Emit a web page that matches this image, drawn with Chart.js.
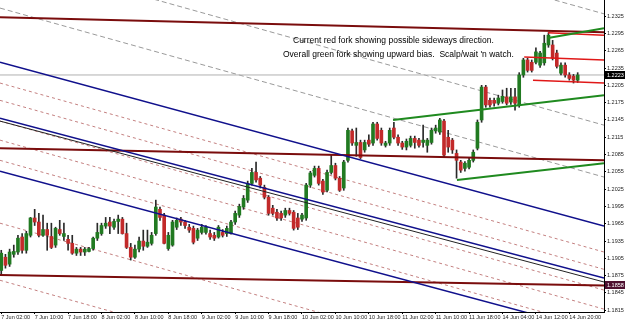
<!DOCTYPE html>
<html>
<head>
<meta charset="utf-8">
<script src="https://cdn.jsdelivr.net/npm/chart.js@4.4.0/dist/chart.umd.min.js"></script>
<style>
  html, body { margin: 0; padding: 0; background: #fff; }
</style>
</head>
<body>
<canvas id="myChart" width="625" height="321"></canvas>
<script>
// hourly candles, 7 Jun 02:00 .. 14 Jun 22:00 (EURUSD-ish)
let opens = [1.1884,1.1907,1.1895,1.1912,1.1916,1.1942,1.1919,1.1945,1.1975,1.1968,1.1945,1.1955,1.1943,1.1928,1.1955,1.1943,1.1938,1.1931,1.1914,1.1921,
  1.1916,1.1917,1.1922,1.1940,1.1948,1.1961,1.1968,1.1959,1.1969,1.1973,1.1948,1.1924,1.1907,1.1921,1.1935,1.1926,1.1931,1.1948,1.1990,1.1980,
  1.1922,1.1928,1.1959,1.1973,1.1968,1.1959,1.1957,1.1940,1.1950,1.1950,1.1948,1.1945,1.1942,1.1950,1.1948,1.1948,1.1968,1.1980,1.1994,1.2006,
  1.2035,1.2054,1.2044,1.2028,1.2011,1.1992,1.1985,1.1983,1.1980,1.1988,1.1985,1.1975,1.1973,1.1975,1.2032,1.2049,1.2061,1.2039,1.2023,1.2054,
  1.2066,1.2044,1.2027,1.2075,1.2126,1.2101,1.2106,1.2093,1.2110,1.2105,1.2138,1.2127,1.2101,1.2105,1.2131,1.2115,1.2105,1.2098,1.2101,1.2113,
  1.2110,1.2106,1.2101,1.2106,1.2126,1.2124,1.2143,1.2115,1.2110,1.2087,1.2072,1.2061,1.2063,1.2075,1.2096,1.2145,1.2202,1.2179,1.2179,1.2174,
  1.2177,1.2185,1.2176,1.2185,1.2171,1.2223,1.2249,1.2245,1.2245,1.2240,1.2244,1.2275,1.2275,1.2261,1.2226,1.2240,1.2223,1.2221,1.2214];
let highs = [1.1919,1.1912,1.1921,1.1928,1.1945,1.1948,1.1952,1.1976,1.1990,1.1983,1.1980,1.1966,1.1966,1.1959,1.1971,1.1966,1.1945,1.1945,1.1924,1.1924,
  1.1924,1.1924,1.1942,1.1966,1.1966,1.1976,1.1976,1.1973,1.1980,1.1976,1.1966,1.1931,1.1928,1.1942,1.1954,1.1954,1.1950,1.2006,1.1994,1.1983,
  1.1950,1.1971,1.1975,1.1976,1.1971,1.1964,1.1961,1.1957,1.1964,1.1962,1.1954,1.1950,1.1962,1.1955,1.1961,1.1971,1.1987,1.1999,1.2014,1.2039,
  1.2061,1.2072,1.2047,1.2032,1.2014,1.1997,1.1990,1.1987,1.1992,1.1992,1.1988,1.1983,1.1983,1.2035,1.2056,1.2065,1.2065,1.2042,1.2058,1.2084,
  1.2070,1.2047,1.2075,1.2131,1.2129,1.2131,1.2110,1.2110,1.2119,1.2141,1.2141,1.2131,1.2108,1.2131,1.2141,1.2119,1.2108,1.2112,1.2117,1.2117,
  1.2113,1.2136,1.2113,1.2131,1.2136,1.2148,1.2146,1.2127,1.2113,1.2093,1.2075,1.2073,1.2079,1.2093,1.2145,1.2205,1.2205,1.2183,1.2183,1.2188,
  1.2197,1.2200,1.2200,1.2200,1.2227,1.2252,1.2252,1.2249,1.2270,1.2264,1.2292,1.2296,1.2283,1.2266,1.2244,1.2244,1.2227,1.2224,1.2227];
let lows = [1.1877,1.1888,1.1891,1.1907,1.1912,1.1914,1.1914,1.1942,1.1962,1.1942,1.1943,1.1919,1.1922,1.1924,1.1945,1.1936,1.1919,1.1912,1.1910,1.1910,
  1.1910,1.1916,1.1919,1.1936,1.1945,1.1957,1.1948,1.1955,1.1948,1.1947,1.1922,1.1902,1.1905,1.1916,1.1919,1.1924,1.1928,1.1945,1.1971,1.1930,
  1.1919,1.1926,1.1955,1.1962,1.1957,1.1950,1.1930,1.1936,1.1947,1.1947,1.1938,1.1936,1.1940,1.1942,1.1943,1.1947,1.1964,1.1976,1.1990,1.2002,
  1.2032,1.2037,1.2027,1.2008,1.1980,1.1980,1.1971,1.1971,1.1976,1.1980,1.1954,1.1955,1.1969,1.1971,1.2028,1.2046,1.2032,1.2016,1.2020,1.2051,
  1.2041,1.2021,1.2023,1.2072,1.2101,1.2082,1.2078,1.2089,1.2099,1.2101,1.2110,1.2101,1.2098,1.2101,1.2112,1.2101,1.2094,1.2093,1.2098,1.2096,
  1.2098,1.2098,1.2089,1.2103,1.2122,1.2120,1.2080,1.2089,1.2087,1.2044,1.2054,1.2056,1.2060,1.2072,1.2093,1.2141,1.2167,1.2167,1.2169,1.2171,
  1.2174,1.2171,1.2172,1.2162,1.2167,1.2219,1.2228,1.2228,1.2242,1.2236,1.2240,1.2271,1.2249,1.2235,1.2223,1.2219,1.2214,1.2209,1.2210];
let closes = [1.1914,1.1893,1.1916,1.1917,1.1940,1.1919,1.1948,1.1975,1.1968,1.1945,1.1955,1.1945,1.1924,1.1957,1.1948,1.1948,1.1931,1.1914,1.1921,1.1916,
  1.1921,1.1922,1.1940,1.1950,1.1962,1.1966,1.1961,1.1969,1.1973,1.1948,1.1924,1.1907,1.1921,1.1935,1.1926,1.1933,1.1945,1.1994,1.1976,1.1931,
  1.1945,1.1968,1.1971,1.1968,1.1962,1.1954,1.1933,1.1954,1.1959,1.1959,1.1942,1.1940,1.1959,1.1945,1.1957,1.1968,1.1983,1.1995,1.2009,1.2035,
  1.2054,1.2041,1.2032,1.2011,1.1983,1.1983,1.1975,1.1975,1.1988,1.1983,1.1957,1.1959,1.1980,1.2032,1.2053,1.2061,1.2035,1.2020,1.2054,1.2066,
  1.2044,1.2023,1.2072,1.2127,1.2105,1.2106,1.2080,1.2106,1.2103,1.2138,1.2113,1.2105,1.2105,1.2127,1.2115,1.2105,1.2098,1.2108,1.2113,1.2106,
  1.2101,1.2110,1.2110,1.2127,1.2131,1.2145,1.2084,1.2098,1.2093,1.2075,1.2058,1.2070,1.2075,1.2089,1.2141,1.2202,1.2171,1.2171,1.2174,1.2183,
  1.2186,1.2174,1.2185,1.2174,1.2223,1.2249,1.2231,1.2231,1.2263,1.2261,1.2278,1.2292,1.2252,1.2238,1.2240,1.2223,1.2217,1.2214,1.2223];

let tickBars = [0, 8, 16, 24, 32, 40, 48, 56, 64, 72, 80, 88, 96, 104, 112, 120, 128, 136];
let tickLabels = ['7 Jun 02:00', '7 Jun 10:00', '7 Jun 18:00', '8 Jun 02:00', '8 Jun 10:00', '8 Jun 18:00',
  '9 Jun 02:00', '9 Jun 10:00', '9 Jun 18:00', '10 Jun 02:00', '10 Jun 10:00', '10 Jun 18:00',
  '11 Jun 02:00', '11 Jun 10:00', '11 Jun 18:00', '14 Jun 04:00', '14 Jun 12:00', '14 Jun 20:00'];
let priceTicks = [1.1815, 1.1845, 1.1875, 1.1905, 1.1935, 1.1965, 1.1995, 1.2025, 1.2055, 1.2085,
  1.2115, 1.2145, 1.2175, 1.2205, 1.2235, 1.2265, 1.2295, 1.2325];

let bidPrice = 1.2223;
let markPrice = 1.1858;

// trend lines: [bar1, price1, bar2, price2]
let maroonLines = [[-0.3, 1.2323, 144.3, 1.2297], [-0.3, 1.2096, 144.3, 1.2075], [-0.3, 1.1876, 144.3, 1.1858]];
let blueLines = [[-0.3, 1.2245, 144.3, 1.1961], [-0.3, 1.2148, 144.3, 1.1871], [-0.3, 1.2056, 144.3, 1.1775]];
let blackLines = [[-0.3, 1.2143, 144.3, 1.1864]];
let greenLines = [[93.8, 1.2145, 144.3, 1.2188], [130.9, 1.2287, 144.3, 1.2304], [109.1, 1.2041, 144.3, 1.2070]];
let redLines = [[130.9, 1.2296, 144.3, 1.2292], [125.2, 1.2254, 144.3, 1.2249], [127.3, 1.2214, 144.3, 1.2209]];
let greyDashed = [[-0.3, 1.2622, 144.3, 1.2329], [-0.3, 1.2429, 144.3, 1.2136], [-0.3, 1.2339, 144.3, 1.2046]];
let redDashed = [[-0.3, 1.2209, 144.3, 1.1916], [-0.3, 1.2179, 144.3, 1.1886], [-0.3, 1.2143, 144.3, 1.1850],
  [-0.3, 1.2110, 144.3, 1.1817], [-0.3, 1.2075, 144.3, 1.1782], [-0.3, 1.1966, 144.3, 1.1673], [-0.3, 1.1867, 144.3, 1.1574]];

let notes = ['Current red fork showing possible sideways direction.', "Overall green fork showing upward bias.  Scalp/wait 'n watch."];

function segs(list, color, width, dash, order) {
  return list.map(s => ({
    type: 'line',
    data: [{x: s[0], y: s[1]}, {x: s[2], y: s[3]}],
    borderColor: color,
    borderWidth: width,
    borderDash: dash,
    pointRadius: 0,
    order: order
  }));
}

const overlay = {
  id: 'overlay',
  afterDraw(chart) {
    const ctx = chart.ctx;
    const ys = chart.scales.y;
    const area = chart.chartArea;
    ctx.save();
    // price boxes on the right axis
    [[bidPrice, '#000000'], [markPrice, '#4e1030']].forEach(p => {
      const py = Math.round(ys.getPixelForValue(p[0]));
      ctx.fillStyle = p[1];
      ctx.fillRect(area.right + 1, py - 4, 20, 8);
      ctx.fillStyle = '#fff';
      ctx.font = '5.5px "Liberation Sans"';
      ctx.textBaseline = 'middle';
      ctx.textAlign = 'left';
      ctx.fillText(p[0].toFixed(4), area.right + 3, py);
    });
    // comment text
    ctx.fillStyle = '#000';
    ctx.font = '8.5px "Liberation Sans"';
    ctx.textBaseline = 'middle';
    ctx.fillText(notes[0], 293, 41);
    ctx.fillText(notes[1], 283, 55);
    ctx.restore();
  }
};

function createChart() {
  const ctx = document.getElementById('myChart').getContext('2d');
  const bodies = opens.map((o, i) => ({x: i, y: [o, closes[i]]}));
  const wicks = highs.map((h, i) => ({x: i, y: [lows[i], h]}));
  const bodyColors = opens.map((o, i) => closes[i] >= o ? '#217a21' : '#c22a2a');

  const datasets = [
    ...segs(redDashed, '#c48080', 1, [3, 3], 8),
    ...segs(greyDashed, '#9a9a9a', 1, [5, 3], 8),
    ...segs([[-0.3, bidPrice, 144.3, bidPrice]], '#b0b0b0', 1, [], 7),
    {type: 'bar', data: wicks, backgroundColor: '#2a2a2a', barThickness: 1, grouped: false, order: 5},
    {type: 'bar', data: bodies, backgroundColor: bodyColors, barThickness: 3, minBarLength: 1, grouped: false, order: 4},
    ...segs(blackLines, '#222', 1, [], 2),
    ...segs(blueLines, '#10108c', 1.5, [], 2),
    ...segs(maroonLines, '#7a0c0c', 2, [], 2),
    ...segs(greenLines, '#1f8a1f', 2, [], 1),
    ...segs(redLines, '#e01818', 1.5, [], 1)
  ];

  const tickFont = {family: 'Liberation Sans', size: 5.5};
  new Chart(ctx, {
    type: 'bar',
    data: {datasets: datasets},
    options: {
      responsive: false,
      animation: false,
      events: [],
      layout: {padding: 0},
      plugins: {legend: {display: false}, tooltip: {enabled: false}},
      scales: {
        x: {
          type: 'linear', min: -0.3, max: 144.3, offset: false,
          afterBuildTicks: s => { s.ticks = tickBars.map(v => ({value: v})); },
          afterFit: s => { s.height = 9; s.paddingLeft = 0; s.paddingRight = 0; },
          ticks: {autoSkip: false, maxRotation: 0, align: 'start', padding: 0, font: tickFont, color: '#222',
            callback: (v, i) => tickLabels[i]},
          grid: {drawOnChartArea: false, tickLength: 2, color: '#000', offset: false},
          border: {color: '#000'}
        },
        y: {
          type: 'linear', position: 'right', min: 1.1812, max: 1.2353,
          afterBuildTicks: s => { s.ticks = priceTicks.map(v => ({value: v})); },
          afterFit: s => { s.width = 21; s.paddingTop = 0; s.paddingBottom = 0; },
          ticks: {padding: 1, font: tickFont, color: '#222', callback: v => v.toFixed(4)},
          grid: {drawOnChartArea: false, tickLength: 2, color: '#000'},
          border: {color: '#000'}
        }
      }
    },
    plugins: [overlay]
  });
}

window.onload = createChart;
</script>
</body>
</html>
